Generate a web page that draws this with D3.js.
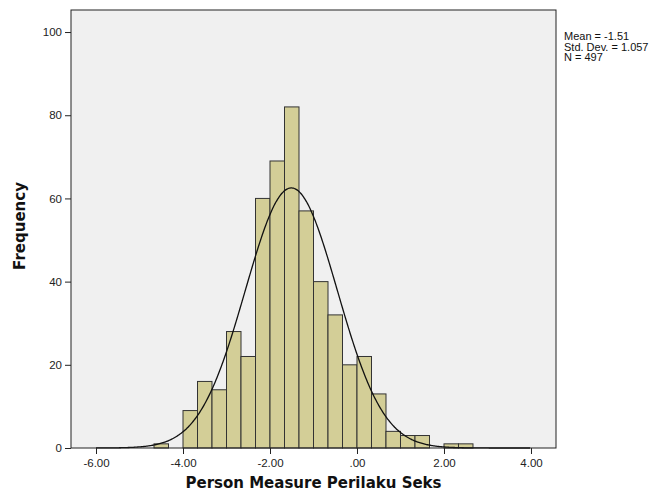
<!DOCTYPE html>
<html><head><meta charset="utf-8">
<script src="https://cdn.jsdelivr.net/npm/d3@7"></script>
<style>body{margin:0;background:#fff;} text{font-family:"Liberation Sans",Arial,sans-serif;}</style>
</head><body>
<svg id="c" width="665" height="493"></svg>
<script>
const binStarts = [-4.6667,-4.3333,-4.0,-3.6667,-3.3333,-3.0,-2.6667,-2.3333,-2.0,-1.6667,-1.3333,-1.0,-0.6667,-0.3333,0.0,0.3333,0.6667,1.0,1.3333,1.6667,2.0,2.3333];
const counts    = [1,0,9,16,14,28,22,60,69,82,57,40,32,20,22,13,4,3,3,0,1,1];
const binWidth = 1/3;
const xTicks = [-6,-4,-2,0,2,4];
const yTicks = [0,20,40,60,80,100];
const stats = {mean:-1.51, sd:1.057, n:497};
const legendLines = ["Mean = -1.51","Std. Dev. = 1.057","N = 497"];

const svg = d3.select("#c");
const L=71,R=556,T=10,B=448;
const x = d3.scaleLinear().domain([-6.575,4.575]).range([L,R]);
const y = d3.scaleLinear().domain([0,105.3]).range([B,T]);

svg.append("rect").attr("x",L).attr("y",T).attr("width",R-L).attr("height",B-T).attr("fill","#f0f0f0");

svg.append("g").selectAll("rect").data(binStarts.map((s,i)=>({s,c:counts[i]})).filter(d=>d.c>0))
 .join("rect")
 .attr("x",d=>x(d.s)).attr("width",d=>x(d.s+binWidth)-x(d.s))
 .attr("y",d=>y(d.c)).attr("height",d=>y(0)-y(d.c))
 .attr("fill","#d3ce97").attr("stroke","#333").attr("stroke-width",1);

const pdf = v => stats.n*binWidth/(stats.sd*Math.sqrt(2*Math.PI))*Math.exp(-0.5*((v-stats.mean)/stats.sd)**2);
const pts = d3.range(-6.0,4.0,0.02);
svg.append("path").datum(pts)
 .attr("d",d3.line().x(v=>x(v)).y(v=>y(pdf(v))).curve(d3.curveBasis))
 .attr("fill","none").attr("stroke","#111").attr("stroke-width",1.3);

svg.append("rect").attr("x",L).attr("y",T).attr("width",R-L).attr("height",B-T).attr("fill","none").attr("stroke","#222").attr("stroke-width",1);

const fmt = v => v===0 ? ".00" : v.toFixed(2);
const xa = svg.append("g").attr("transform",`translate(0,${B})`).call(d3.axisBottom(x).tickValues(xTicks).tickFormat(fmt).tickSize(6).tickSizeOuter(0));
xa.select(".domain").remove();
xa.selectAll("line").attr("stroke","#222");
xa.selectAll("text").attr("font-size",11.5).attr("fill","#222").attr("dy","0.9em");

const ya = svg.append("g").attr("transform",`translate(${L},0)`).call(d3.axisLeft(y).tickValues(yTicks).tickSize(6).tickSizeOuter(0));
ya.select(".domain").remove();
ya.selectAll("line").attr("stroke","#222");
ya.selectAll("text").attr("font-size",11.5).attr("fill","#222");

svg.append("text").attr("x",(L+R)/2).attr("y",488).attr("text-anchor","middle")
 .style("font-family","'DejaVu Sans',Verdana,sans-serif")
 .attr("font-size",15).attr("font-weight","bold").attr("fill","#111").text("Person Measure Perilaku Seks");
svg.append("text").attr("transform","translate(25,226) rotate(-90)").attr("text-anchor","middle")
 .style("font-family","'DejaVu Sans',Verdana,sans-serif")
 .attr("font-size",15).attr("font-weight","bold").attr("fill","#111").text("Frequency");

svg.append("g").selectAll("text").data(legendLines).join("text")
 .attr("x",564).attr("y",(d,i)=>40+i*10.5).attr("font-size",11).attr("fill","#111").text(d=>d);
</script>
</body></html>
